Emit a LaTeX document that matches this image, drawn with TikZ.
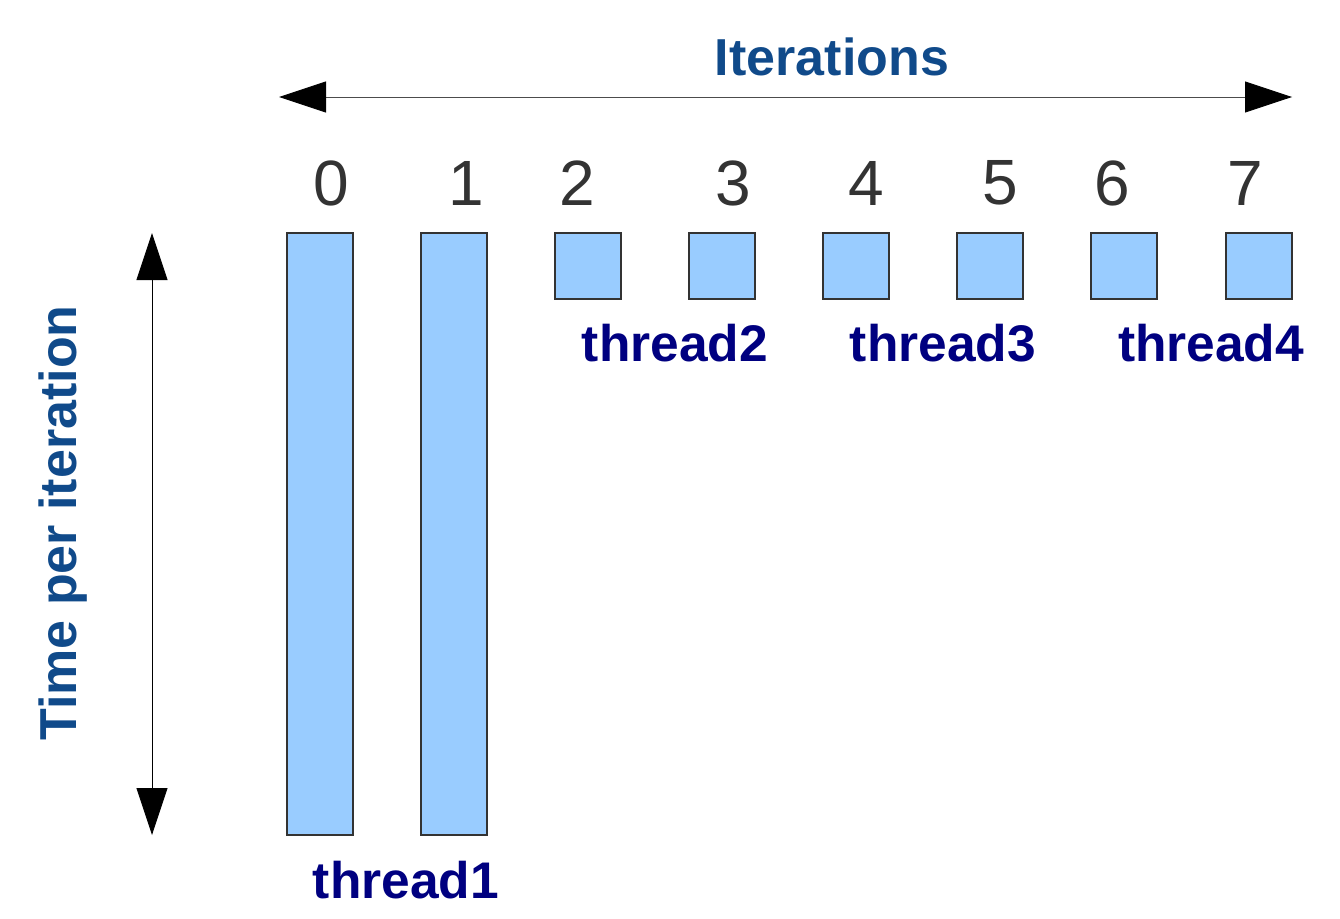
\documentclass[tikz,border=0pt]{standalone}
\usepackage{fontspec}
\setmainfont{Liberation Sans}
\usetikzlibrary{arrows.meta}
\definecolor{titleblue}{RGB}{16,74,138}
\definecolor{threadnavy}{RGB}{0,0,128}
\definecolor{digitgray}{RGB}{51,51,51}
\definecolor{barfill}{RGB}{153,204,255}
\definecolor{barline}{RGB}{51,51,51}
\tikzset{
  bar/.style={draw=barline, line width=1.3pt, fill=barfill, minimum width=66pt, inner sep=0pt, outer sep=0pt},
  sq/.style={bar, minimum height=66pt},
  tall/.style={bar, minimum height=602pt},
  digit/.style={text=digitgray, font=\fontsize{64}{70}\selectfont, inner sep=0pt},
  tlabel/.style={text=threadnavy, font=\fontsize{51.5}{58}\selectfont\bfseries, inner sep=0pt},
  axlabel/.style={text=titleblue, font=\fontsize{52}{60}\selectfont\bfseries, inner sep=0pt},
  bigarrow/.style={line width=0.9pt, {Triangle[length=47pt,width=31pt,color=black]}-{Triangle[length=47pt,width=31pt,color=black]}},
}
\begin{document}
\begin{tikzpicture}[x=1pt,y=-1pt]
\useasboundingbox (0,0) rectangle (1340,918);
% axes
\coordinate (hl) at (279,97);
\coordinate (hr) at (1292,97);
\coordinate (vt) at (152,233);
\coordinate (vb) at (152,835);
\draw[bigarrow, draw=black!70] (hl) -- (hr);
\draw[bigarrow, draw=black] (vt) -- (vb);
\node[axlabel] (iter) at (832,57) {Iterations};
\node[axlabel, rotate=90] (time) at (63,523) {Time per iteration};
% digits
\node[digit] (d0) at (331,183) {0};
\node[digit] (d1) at (466,183) {1};
\node[digit] (d2) at (577,183) {2};
\node[digit] (d3) at (733,183) {3};
\node[digit] (d4) at (866,183) {4};
\node[digit] (d5) at (1000,183) {5};
\node[digit] (d6) at (1112,183) {6};
\node[digit] (d7) at (1245,183) {7};
% bars
\node[tall] (b0) at (320,534) {};
\node[tall] (b1) at (454,534) {};
\node[sq] (b2) at (588,266) {};
\node[sq] (b3) at (722,266) {};
\node[sq] (b4) at (856,266) {};
\node[sq] (b5) at (990,266) {};
\node[sq] (b6) at (1124,266) {};
\node[sq] (b7) at (1259,266) {};
% thread labels
\node[tlabel] (t1) at (406,880) {thread1};
\node[tlabel] (t2) at (675,343) {thread2};
\node[tlabel] (t3) at (943,343) {thread3};
\node[tlabel] (t4) at (1211,343) {thread4};
\end{tikzpicture}
\end{document}
